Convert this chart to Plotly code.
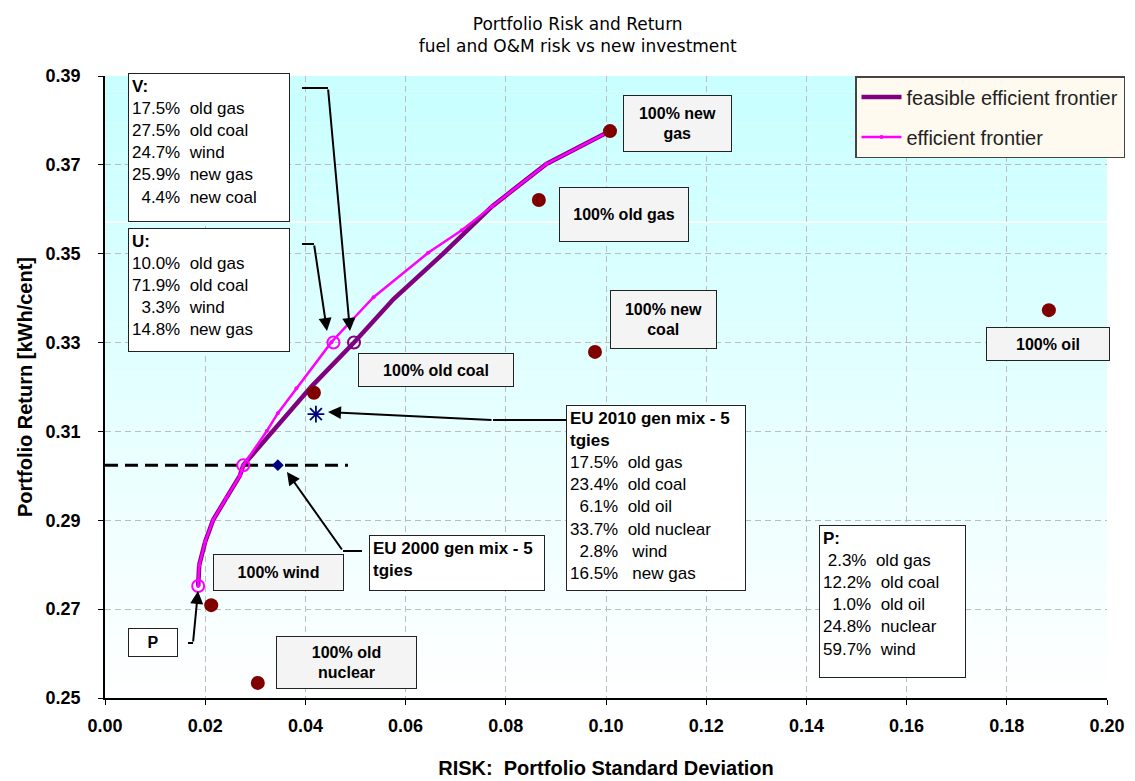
import plotly.graph_objects as go

# ---------------- data ----------------
eff_x = [0.0186, 0.0188, 0.0200, 0.0216, 0.0242, 0.0269, 0.0276, 0.0323, 0.0345, 0.0382,
         0.0452, 0.0495, 0.0536, 0.0645, 0.0712, 0.0772, 0.0881, 0.1008]
eff_y = [0.2752, 0.2799, 0.2852, 0.2901, 0.2950, 0.3000, 0.3024, 0.3101, 0.3141, 0.3197,
         0.3301, 0.3353, 0.3402, 0.3502, 0.3553, 0.3606, 0.3702, 0.3776]

feas_x = [0.0186, 0.0188, 0.0200, 0.0216, 0.0242, 0.0269, 0.0276, 0.0334, 0.0412, 0.0497,
          0.0576, 0.0675, 0.0772, 0.0881, 0.1008]
feas_y = [0.2752, 0.2799, 0.2852, 0.2901, 0.2950, 0.3000, 0.3024, 0.3100, 0.3201, 0.3300,
          0.3398, 0.3500, 0.3606, 0.3702, 0.3776]

asset_names = ["100% new gas", "100% old gas", "100% new coal", "100% oil",
               "100% old coal", "100% wind", "100% old nuclear"]
asset_x = [0.1008, 0.0866, 0.0978, 0.1884, 0.0417, 0.0212, 0.0305]
asset_y = [0.3776, 0.3621, 0.3279, 0.3373, 0.3187, 0.2709, 0.2534]

mag_circle_names = ["P", "EU 2000 level", "U"]
mag_circle_x = [0.0186, 0.0276, 0.0456]
mag_circle_y = [0.2752, 0.3024, 0.3300]
pur_circle_x = [0.0497]
pur_circle_y = [0.3300]

eu2010_x = [0.0421]
eu2010_y = [0.3139]
eu2000_x = [0.0345]
eu2000_y = [0.3024]

level_x = [0.0, 0.0485]
level_y = [0.3024, 0.3024]

x_ticks = [0.00, 0.02, 0.04, 0.06, 0.08, 0.10, 0.12, 0.14, 0.16, 0.18, 0.20]
y_ticks = [0.25, 0.27, 0.29, 0.31, 0.33, 0.35, 0.37, 0.39]

# ---------------- layout helpers (pixel -> paper) ----------------
L, R, T, B = 105, 1107, 76, 698
def pxx(p):
    return (p - L) / (R - L)
def pxy(p):
    return (B - p) / (B - T)

FONT = "Liberation Sans, Arial, sans-serif"
NB = "\u00a0"

fig = go.Figure()

fig.add_trace(go.Scatter(x=level_x, y=level_y, mode="lines", showlegend=False,
                         line=dict(color="black", width=3, dash="13px,7px"), hoverinfo="skip"))
fig.add_trace(go.Scatter(x=feas_x, y=feas_y, mode="lines", name="feasible efficient frontier",
                         legendgroup="a", line=dict(color="#800080", width=4.5)))
fig.add_trace(go.Scatter(x=eff_x, y=eff_y, mode="lines+markers", name="efficient frontier",
                         legendgroup="b", line=dict(color="#FF00FF", width=2.5),
                         marker=dict(color="#FF00FF", size=4)))
fig.add_trace(go.Scatter(x=asset_x, y=asset_y, mode="markers", showlegend=False, text=asset_names,
                         marker=dict(color="#800000", size=14)))
fig.add_trace(go.Scatter(x=mag_circle_x, y=mag_circle_y, mode="markers", showlegend=False,
                         text=mag_circle_names,
                         marker=dict(symbol="circle-open", color="#FF00FF", size=12,
                                     line=dict(width=2))))
fig.add_trace(go.Scatter(x=pur_circle_x, y=pur_circle_y, mode="markers", showlegend=False,
                         marker=dict(symbol="circle-open", color="#800080", size=12,
                                     line=dict(width=2))))
fig.add_trace(go.Scatter(x=eu2010_x, y=eu2010_y, mode="markers", showlegend=False,
                         marker=dict(symbol="asterisk-open", color="#000080", size=14,
                                     line=dict(width=1.8, color="#000080"))))
fig.add_trace(go.Scatter(x=eu2000_x, y=eu2000_y, mode="markers", showlegend=False,
                         marker=dict(symbol="diamond", color="#000080", size=9)))

# ---------------- background gradient ----------------
shapes = []
N = 40
top = (200, 255, 255)
for i in range(N):
    y0 = 0.25 + 0.14 * i / N
    y1 = 0.25 + 0.14 * (i + 1) / N
    t = (i + 0.5) / N
    c = tuple(round(255 + (tc - 255) * t) for tc in top)
    shapes.append(dict(type="rect", xref="paper", yref="y", x0=0, x1=1, y0=y0, y1=y1,
                       fillcolor="rgb(%d,%d,%d)" % c, line=dict(width=0), layer="below"))
shapes.append(dict(type="line", xref="paper", yref="paper", x0=0, x1=1,
                   y0=pxy(222), y1=pxy(222), line=dict(color="white", width=1.5), layer="below"))

# ---------------- boxes ----------------
annotations = []
BW, PAD = 1, 3
def box(text, x0, y0, x1, y1, bg="white", align="left", valign="top", size=17, color="black"):
    annotations.append(dict(
        text=text, xref="paper", yref="paper", x=pxx(x0), y=pxy(y0),
        xanchor="left", yanchor="top", showarrow=False,
        width=x1 - x0 - 2 * (BW + PAD), height=y1 - y0 - 2 * (BW + PAD),
        align=align, valign=valign, bgcolor=bg, bordercolor="#222", borderwidth=BW,
        borderpad=PAD, font=dict(family=FONT, size=size, color=color)))

def lines(*ls):
    return "<br>".join(l.replace(" ", NB) for l in ls)

box("<b>V:</b><br>" + lines("17.5%  old gas", "27.5%  old coal", "24.7%  wind",
                            "25.9%  new gas", "  4.4%  new coal"), 128, 73, 290, 222)
box("<b>U:</b><br>" + lines("10.0%  old gas", "71.9%  old coal", "  3.3%  wind",
                            "14.8%  new gas"), 128, 228, 290, 352)
box("<b>EU 2010 gen mix - 5<br>tgies</b><br>" +
    lines("17.5%  old gas", "23.4%  old coal", "  6.1%  old oil", "33.7%  old nuclear",
          "  2.8%   wind", "16.5%   new gas"), 566, 405, 746, 591)
box("<b>EU 2000 gen mix - 5<br>tgies</b>", 369, 535, 545, 591)
box("<b>P:</b><br>" + lines(" 2.3%  old gas", "12.2%  old coal", "  1.0%  old oil",
                            "24.8%  nuclear", "59.7%  wind"), 819, 525, 966, 678)
box("<b>P</b>", 128, 628, 178, 657, align="center", valign="middle", size=16)

GRAY = "#F4F4F4"
box("<b>100% new<br>gas</b>", 623, 95, 732, 152, bg=GRAY, align="center", valign="middle", size=16)
box("<b>100% old gas</b>", 559, 187, 689, 242, bg=GRAY, align="center", valign="middle", size=16)
box("<b>100% new<br>coal</b>", 610, 290, 717, 349, bg=GRAY, align="center", valign="middle", size=16)
box("<b>100% oil</b>", 986, 327, 1110, 361, bg=GRAY, align="center", valign="middle", size=16)
box("<b>100% old coal</b>", 358, 353, 514, 387, bg=GRAY, align="center", valign="middle", size=16)
box("<b>100% wind</b>", 213, 554, 344, 591, bg=GRAY, align="center", valign="middle", size=16)
box("<b>100% old<br>nuclear</b>", 276, 636, 417, 689, bg=GRAY, align="center", valign="middle", size=16)

# ---------------- callout arrows ----------------
def callout(pts):
    # pts: pixel polyline, last point is the arrow tip
    for (a, b) in zip(pts[:-2], pts[1:-1]):
        shapes.append(dict(type="line", xref="paper", yref="paper",
                           x0=pxx(a[0]), y0=pxy(a[1]), x1=pxx(b[0]), y1=pxy(b[1]),
                           line=dict(color="black", width=2), layer="above"))
    tail, tip = pts[-2], pts[-1]
    annotations.append(dict(text="", xref="paper", yref="paper", x=pxx(tip[0]), y=pxy(tip[1]),
                            ax=tail[0] - tip[0], ay=tail[1] - tip[1], showarrow=True,
                            arrowhead=2, arrowsize=1.3, arrowwidth=2, arrowcolor="black",
                            standoff=0))

callout([(302, 88), (328, 88), (350, 331)])
callout([(302, 244), (314, 244), (327, 331)])
callout([(188, 643), (193, 643), (198, 591)])
callout([(362, 551), (343, 551), (287, 472)])
callout([(566, 420), (493, 420), (328, 412)])

fig.update_layout(
    width=1135, height=781,
    margin=dict(l=L, r=1135 - R, t=T, b=781 - B, autoexpand=False),
    paper_bgcolor="white", plot_bgcolor="white",
    title=dict(text="Portfolio Risk and Return<br>fuel and O&M risk vs new investment",
               x=0.509, xanchor="center", y=1 - 30 / 781, yanchor="middle",
               font=dict(family="DejaVu Sans, sans-serif", size=17, color="black")),
    font=dict(family=FONT, color="black"),
    showlegend=True,
    legend=dict(x=pxx(855), y=1.0, xanchor="left", yanchor="top",
                bgcolor="#FFFAF0", bordercolor="#444", borderwidth=1.5,
                font=dict(family=FONT, size=20, color="#222"),
                tracegroupgap=11, itemwidth=40),
    xaxis=dict(range=[0, 0.2], tickvals=x_ticks, ticktext=["%.2f" % v for v in x_ticks],
               showgrid=True, gridcolor="#BDBDBD", griddash="6px,4px", gridwidth=1,
               showline=True, linecolor="black", linewidth=1.5,
               ticks="outside", ticklen=5, tickcolor="black", ticklabelstandoff=6,
               tickfont=dict(family=FONT, size=18, color="black", weight="bold"),
               zeroline=False, fixedrange=True,
               title=dict(text="<b>RISK:  Portfolio Standard Deviation</b>".replace("  ", NB + " "),
                          font=dict(family=FONT, size=20, color="black"), standoff=26)),
    yaxis=dict(range=[0.25, 0.39], tickvals=y_ticks, ticktext=["%.2f" % v for v in y_ticks],
               showgrid=True, gridcolor="#BDBDBD", griddash="6px,4px", gridwidth=1,
               showline=True, linecolor="black", linewidth=1.5,
               ticks="outside", ticklen=5, tickcolor="black", ticklabelstandoff=14,
               tickfont=dict(family=FONT, size=18, color="black", weight="bold"),
               zeroline=False, fixedrange=True,
               title=dict(text="<b>Portfolio Return [kWh/cent]</b>",
                          font=dict(family=FONT, size=20, color="black"), standoff=8)),
    shapes=shapes, annotations=annotations,
    hovermode=False,
)

fig.write_html("out.html", config={"displayModeBar": False},
               post_script="document.body.style.margin='0px';")
